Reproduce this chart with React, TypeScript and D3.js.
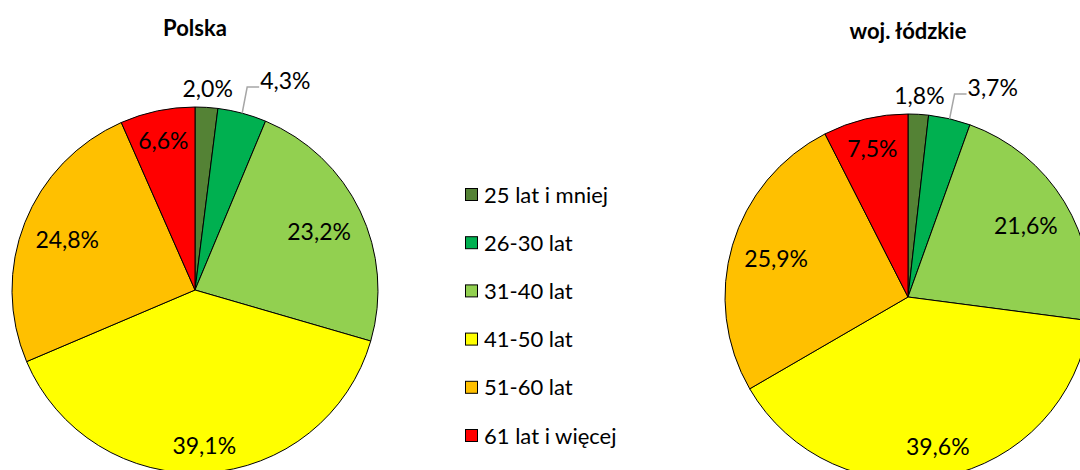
import React from "react";
import * as d3 from "d3";

const categories = ["25 lat i mniej", "26-30 lat", "31-40 lat", "41-50 lat", "51-60 lat", "61 lat i więcej"];
const colors = ["#548235", "#00B050", "#92D050", "#FFFF00", "#FFC000", "#FF0000"];
const polskaValues = [2.0, 4.3, 23.2, 39.1, 24.8, 6.6];
const lodzkieValues = [1.8, 3.7, 21.6, 39.6, 25.9, 7.5];
const titles = ["Polska", "woj. łódzkie"];

const W = 1080;
const H = 470;
const R = 183;
const FONT = "Lato, 'Open Sans', sans-serif";
const LABEL_SIZE = 23;

const fmt = (v: number) => v.toFixed(1).replace(".", ",") + "%";

let ctx: CanvasRenderingContext2D | null = null;
function measure(text: string, size: number): number {
  if (!ctx && typeof document !== "undefined") {
    ctx = document.createElement("canvas").getContext("2d");
  }
  if (!ctx) return text.length * size * 0.5;
  ctx.font = `${size}px Lato`;
  return ctx.measureText(text).width;
}

function Pie({ cx, cy, title, titleY, values }: { cx: number; cy: number; title: string; titleY: number; values: number[] }) {
  const pie = d3.pie<number>().sort(null).value((d) => d);
  const arcs = pie(values);
  const arc = d3.arc<d3.PieArcDatum<number>>().innerRadius(0).outerRadius(R);
  let outsideIndex = 0;
  return (
    <g>
      <text x={cx} y={titleY} textAnchor="middle" dominantBaseline="central" fontWeight="bold" fontSize={22} fontFamily={FONT} fill="#000">
        {title}
      </text>
      <g transform={`translate(${cx},${cy})`}>
        {arcs.map((a, i) => (
          <path key={i} d={arc(a) || ""} fill={colors[i]} stroke="#000" strokeWidth={1} />
        ))}
        {arcs.map((a, i) => {
          const mid = (a.startAngle + a.endAngle) / 2;
          const sx = Math.sin(mid);
          const sy = -Math.cos(mid);
          const label = fmt(a.value);
          if (a.value < 5) {
            const k = outsideIndex++;
            if (k === 0) {
              const lr = R + 19;
              return (
                <text key={"l" + i} x={sx * lr} y={sy * lr} textAnchor="middle" dominantBaseline="central" fontSize={LABEL_SIZE} fontFamily={FONT} fill="#000">
                  {label}
                </text>
              );
            }
            const x0 = sx * R;
            const y0 = sy * R;
            const ey = -R - 20;
            const ex = x0 + 5;
            return (
              <g key={"l" + i}>
                <polyline points={`${x0},${y0} ${ex},${ey} ${ex + 12},${ey}`} fill="none" stroke="#A6A6A6" strokeWidth={1.5} />
                <text x={ex + 13} y={ey - 7} textAnchor="start" dominantBaseline="central" fontSize={LABEL_SIZE} fontFamily={FONT} fill="#000">
                  {label}
                </text>
              </g>
            );
          }
          // place label along mid angle so that its outer corner sits near the rim
          const hw = measure(label, LABEL_SIZE) / 2;
          const hh = 11;
          const D = R * 0.935;
          const b = Math.abs(sx) * hw + Math.abs(sy) * hh;
          const c = hw * hw + hh * hh - D * D;
          const t = -b + Math.sqrt(b * b - c);
          return (
            <text key={"l" + i} x={sx * t} y={sy * t} textAnchor="middle" dominantBaseline="central" fontSize={LABEL_SIZE} fontFamily={FONT} fill="#000">
              {label}
            </text>
          );
        })}
      </g>
    </g>
  );
}

export default function App() {
  const legendY = d3.scalePoint<string>().domain(categories).range([194, 435]);
  return (
    <svg width={W} height={H} style={{ position: "absolute", left: 0, top: 0, background: "#fff" }}>
      <rect width={W} height={H} fill="#fff" />
      <Pie cx={195} cy={290} title={titles[0]} titleY={27} values={polskaValues} />
      <Pie cx={908} cy={297} title={titles[1]} titleY={30} values={lodzkieValues} />
      {categories.map((c, i) => (
        <g key={c} transform={`translate(465,${legendY(c)})`}>
          <rect x={0.5} y={-5.5} width={12} height={12} fill={colors[i]} stroke="#000" strokeWidth={1} />
          <text x={19} y={0} dominantBaseline="central" fontSize={22} fontFamily={FONT} fill="#000">
            {c}
          </text>
        </g>
      ))}
    </svg>
  );
}
